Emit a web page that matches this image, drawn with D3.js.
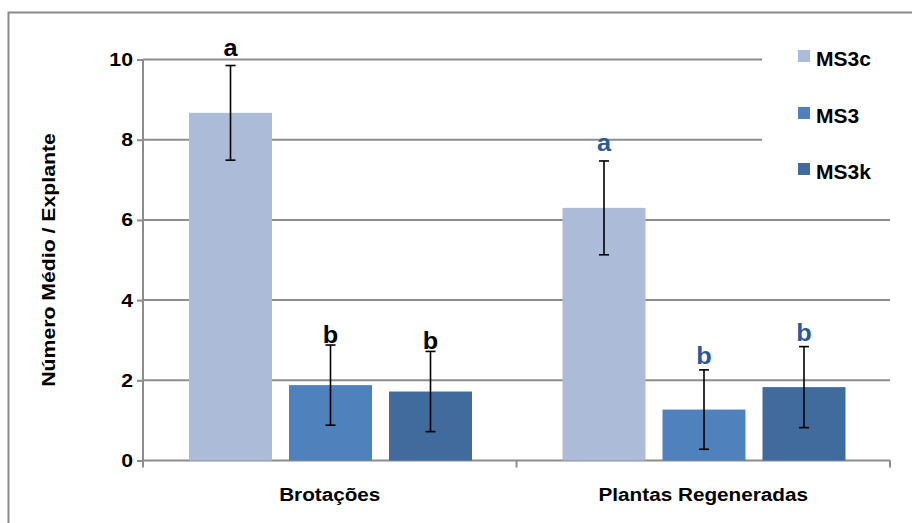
<!DOCTYPE html>
<html>
<head>
<meta charset="utf-8">
<script src="https://cdn.jsdelivr.net/npm/d3@7"></script>
<style>
  html, body { margin: 0; padding: 0; background: #fff; }
  svg { display: block; }
  text { font-family: "Liberation Sans", Arial, sans-serif; font-weight: bold; }
</style>
</head>
<body>
<svg id="chart" width="912" height="523"></svg>
<script>
// Mean number per explant, by culture medium, with standard error
const categories = ["Brotações", "Plantas Regeneradas"];
const seriesNames = ["MS3c", "MS3", "MS3k"];
const ms3cMeans = [8.67, 6.30];
const ms3Means  = [1.88, 1.27];
const ms3kMeans = [1.72, 1.83];
const ms3cErrors = [1.18, 1.17];
const ms3Errors  = [1.00, 0.99];
const ms3kErrors = [1.00, 1.01];
const ms3cLetters = ["a", "a"];
const ms3Letters  = ["b", "b"];
const ms3kLetters = ["b", "b"];
const yTicks = [0, 2, 4, 6, 8, 10];
const yTitle = "Número Médio / Explante";

const seriesColors = ["#abbbd8", "#4f81bd", "#416b9c"];
const letterColors = ["#000000", "#2c5896"];

const means = [ms3cMeans, ms3Means, ms3kMeans];
const errors = [ms3cErrors, ms3Errors, ms3kErrors];
const letters = [ms3cLetters, ms3Letters, ms3kLetters];

const svg = d3.select("#chart");
const plot = { left: 143, right: 890, top: 59.5, bottom: 460.5 };

const y = d3.scaleLinear().domain([0, 10]).range([plot.bottom, plot.top]);
const x0 = d3.scaleBand().domain(categories).range([plot.left, plot.right]).padding(0);
const groupPad = 46;
const x1 = d3.scaleBand().domain(seriesNames)
  .range([groupPad, x0.bandwidth() - groupPad + 1.5]).paddingInner(0.17).paddingOuter(0);

// text drawn slightly wide along its reading direction
function label(parent, x, yPos, str, opts) {
  const g = parent.append("g")
    .attr("transform", `translate(${x},${yPos})` + (opts.rotate ? ` rotate(${opts.rotate})` : "") + ` scale(${opts.sx || 1},1)`);
  return g.append("text")
    .attr("text-anchor", opts.anchor || "middle")
    .attr("dominant-baseline", opts.baseline || "auto")
    .attr("font-size", opts.size)
    .attr("fill", opts.fill || "#000")
    .text(str);
}

// outer frame
svg.append("rect")
  .attr("x", 8.5).attr("y", 12.5).attr("width", 960).attr("height", 560)
  .attr("fill", "none").attr("stroke", "#8a8a8a").attr("stroke-width", 2);

// horizontal gridlines
svg.append("g").selectAll("line").data(yTicks.filter(d => d > 0)).join("line")
  .attr("x1", plot.left).attr("x2", plot.right)
  .attr("y1", d => y(d)).attr("y2", d => y(d))
  .attr("stroke", "#8c8c8c").attr("stroke-width", 2);

// legend background hides the gridlines behind it
svg.append("rect").attr("x", 762).attr("y", 30).attr("width", 140).attr("height", 170).attr("fill", "#fff");

// y axis
const yAxis = svg.append("g").attr("transform", `translate(${plot.left},0)`)
  .call(d3.axisLeft(y).tickValues(yTicks).tickSize(6).tickFormat(""));
yAxis.select(".domain").attr("stroke", "#8c8c8c").attr("stroke-width", 2)
  .attr("d", `M0,${plot.top}V${plot.bottom + 7}`);
yAxis.selectAll(".tick line").attr("stroke", "#8c8c8c").attr("stroke-width", 2);
yTicks.forEach(t => {
  label(svg, 133, y(t), String(t), { anchor: "end", baseline: "central", size: 18.5, sx: 1.15 });
});

// x axis line with ticks at category boundaries
const xAxis = svg.append("g");
xAxis.append("line").attr("x1", plot.left).attr("x2", plot.right)
  .attr("y1", plot.bottom).attr("y2", plot.bottom)
  .attr("stroke", "#8c8c8c").attr("stroke-width", 2);
const bounds = categories.map(c => x0(c)).concat([x0(categories[categories.length - 1]) + x0.bandwidth()]);
xAxis.selectAll("line.tick").data(bounds.slice(1)).join("line").attr("class", "tick")
  .attr("x1", d => d).attr("x2", d => d)
  .attr("y1", plot.bottom).attr("y2", plot.bottom + 7)
  .attr("stroke", "#8c8c8c").attr("stroke-width", 2);
categories.forEach(c => {
  label(svg, x0(c) + x0.bandwidth() / 2, 501, c, { size: 18.5, sx: 1.12 });
});

// y title
label(svg, 55, 260, yTitle, { rotate: -90, size: 18, sx: 1.18 });

// bars, error bars, letters
const rows = [];
categories.forEach((c, ci) => {
  seriesNames.forEach((s, si) => {
    rows.push({ c, ci, s, si, v: means[si][ci], e: errors[si][ci], l: letters[si][ci] });
  });
});

const barX = d => x0(d.c) + x1(d.s);
svg.append("g").selectAll("rect").data(rows).join("rect")
  .attr("x", barX).attr("width", x1.bandwidth())
  .attr("y", d => y(d.v)).attr("height", d => y(0) - y(d.v))
  .attr("fill", d => seriesColors[d.si]);

const eb = svg.append("g").attr("stroke", "#000").attr("stroke-width", 1.6);
rows.forEach(d => {
  const cx = barX(d) + x1.bandwidth() / 2;
  const top = y(d.v + d.e), bot = y(d.v - d.e);
  eb.append("line").attr("x1", cx).attr("x2", cx).attr("y1", top).attr("y2", bot);
  eb.append("line").attr("x1", cx - 5).attr("x2", cx + 5).attr("y1", top).attr("y2", top);
  eb.append("line").attr("x1", cx - 5).attr("x2", cx + 5).attr("y1", bot).attr("y2", bot);
  const gap = d.l === "a" ? 9.5 : (d.ci === 0 ? 2 : 5.5);
  label(svg, cx, top - gap, d.l, { size: 23, sx: 1.1, fill: letterColors[d.ci] });
});

// legend
const legendRows = [56, 113, 169];
seriesNames.forEach((s, i) => {
  svg.append("rect").attr("x", 798).attr("y", legendRows[i] - 6).attr("width", 12).attr("height", 12)
    .attr("fill", seriesColors[i]);
  label(svg, 816, legendRows[i] + 10, s, { anchor: "start", size: 21 });
});
</script>
</body>
</html>
